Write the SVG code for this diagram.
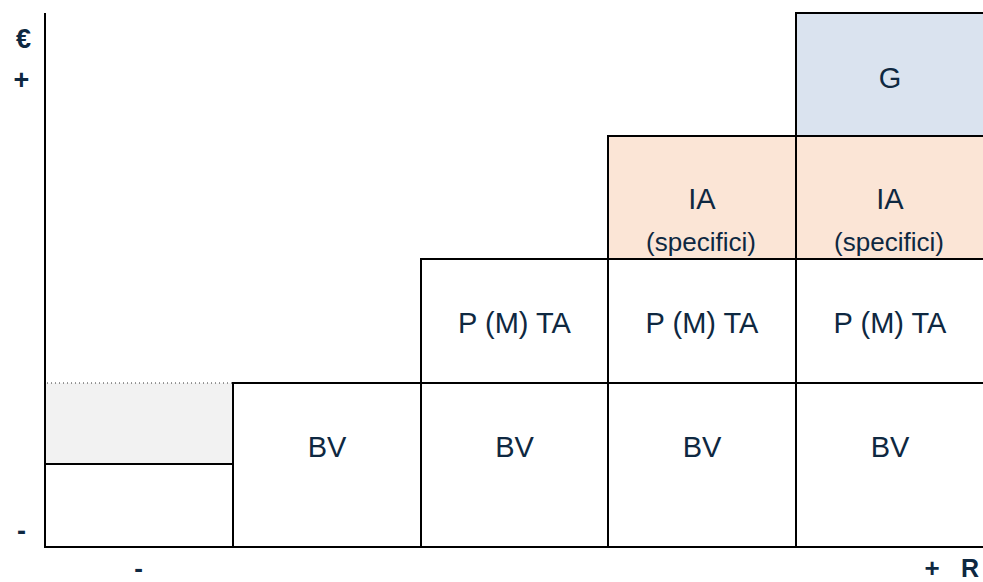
<svg xmlns="http://www.w3.org/2000/svg" width="983" height="582" viewBox="0 0 983 582">
<style>
.cell{stroke:#000;stroke-width:2;fill:#fff}
.t{font-family:"Liberation Sans",Arial,sans-serif;fill:#0e2841;text-anchor:middle}
.big{font-size:29px}
.sub{font-size:26px}
.ax{font-size:25px;font-weight:bold}
.axis{stroke:#000;stroke-width:2;fill:none}
</style>
<rect width="983" height="582" fill="#fff"/>
<g id="empty-grey">
<rect x="45" y="383" width="188" height="81" fill="#f2f2f2"/>
<line x1="47" y1="383" x2="233" y2="383" stroke="#333" stroke-width="1" stroke-dasharray="1 3"/>
</g>
<g id="empty-low">
<rect class="cell" x="45" y="464" width="188" height="83" fill="none"/>
</g>
<g id="bv1"><rect class="cell" x="233" y="383" width="188" height="164"/><text class="t big" x="327" y="457">BV</text></g>
<g id="bv2"><rect class="cell" x="421" y="383" width="187" height="164"/><text class="t big" x="514.5" y="457">BV</text></g>
<g id="bv3"><rect class="cell" x="608" y="383" width="188" height="164"/><text class="t big" x="702" y="457">BV</text></g>
<g id="bv4"><rect class="cell" x="796" y="383" width="188" height="164"/><text class="t big" x="890" y="457">BV</text></g>
<g id="pmta2"><rect class="cell" x="421" y="259" width="187" height="124"/><text class="t big" x="514.5" y="333">P (M) TA</text></g>
<g id="pmta3"><rect class="cell" x="608" y="259" width="188" height="124"/><text class="t big" x="702" y="333">P (M) TA</text></g>
<g id="pmta4"><rect class="cell" x="796" y="259" width="188" height="124"/><text class="t big" x="890" y="333">P (M) TA</text></g>
<g id="ia3"><rect class="cell" x="608" y="136" width="188" height="123" style="fill:#fbe5d6"/><text class="t big" x="702" y="209">IA</text><text class="t sub" x="701" y="251">(specifici)</text></g>
<g id="ia4"><rect class="cell" x="796" y="136" width="188" height="123" style="fill:#fbe5d6"/><text class="t big" x="890" y="209">IA</text><text class="t sub" x="889" y="251">(specifici)</text></g>
<g id="g4"><rect class="cell" x="796" y="13" width="188" height="123" style="fill:#dae3ef"/><text class="t big" x="890" y="88">G</text></g>
<g id="connectors">
<line class="axis" x1="45" y1="13" x2="45" y2="548"/>
<line class="axis" x1="44" y1="547" x2="983" y2="547"/>
</g>
<g id="axis-labels">
<text class="t ax" x="23.5" y="47.5" style="font-size:27px">€</text>
<text class="t ax" x="21.5" y="89" style="font-size:27px">+</text>
<text class="t ax" x="21.5" y="540" style="font-size:27px">-</text>
<text class="t ax" x="138.5" y="577" style="font-size:26px">-</text>
<text class="t ax" x="932" y="577" style="font-size:26px">+</text>
<text class="t ax" x="970" y="577">R</text>
</g>
</svg>
